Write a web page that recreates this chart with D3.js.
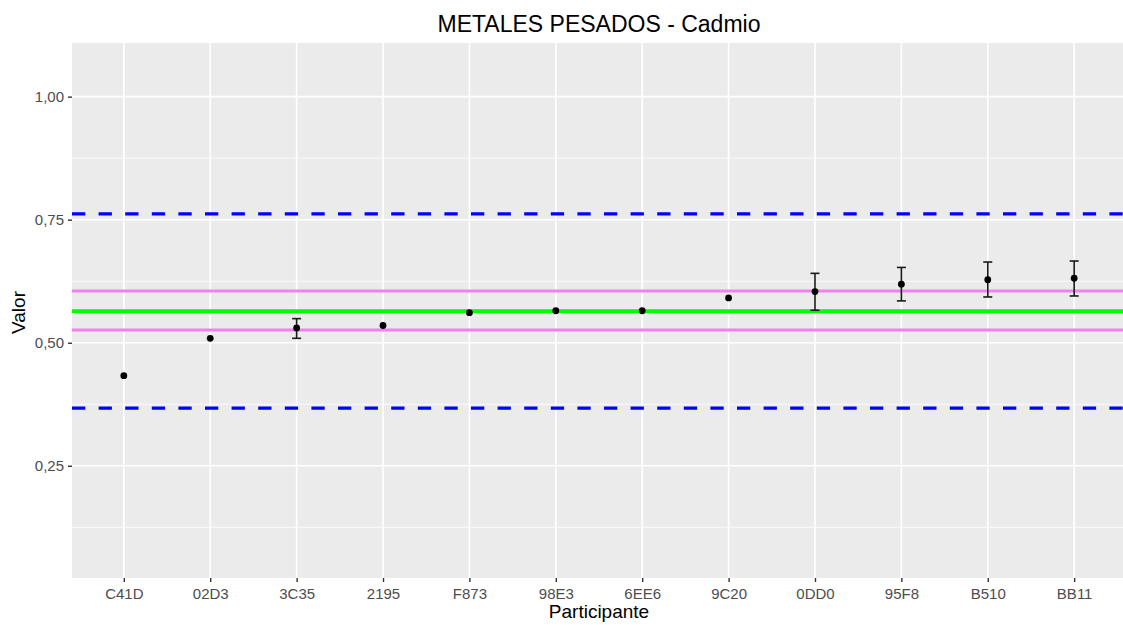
<!DOCTYPE html>
<html>
<head>
<meta charset="utf-8">
<script src="https://cdn.jsdelivr.net/npm/d3@7"></script>
<style>
  body { margin: 0; background: #fff; }
  text { font-family: "Liberation Sans", Arial, sans-serif; }
</style>
</head>
<body>
<div id="chart-area"></div>
<script>
// data
var participants = ['C41D','02D3','3C35','2195','F873','98E3','6EE6','9C20','0DD0','95F8','B510','BB11'];
var values   = [0.433, 0.509, 0.530, 0.535, 0.561, 0.565, 0.565, 0.591, 0.604, 0.619, 0.628, 0.631];
var errLow   = [null, null, 0.509, null, null, null, null, null, 0.566, 0.585, 0.593, 0.595];
var errHigh  = [null, null, 0.549, null, null, null, null, null, 0.641, 0.653, 0.664, 0.666];
var yTicks = [0.25, 0.50, 0.75, 1.00];
var yMinor = [0.125, 0.375, 0.625, 0.875];
var refCenter = 0.564;          // green
var refInner  = [0.526, 0.605]; // violet
var refOuter  = [0.367, 0.762]; // blue dashed

var W = 1123, H = 625;
var margin = { top: 43, right: -3, bottom: 47, left: 72 },
    width = W - margin.left - margin.right,
    height = H - margin.top - margin.bottom;

var svg = d3.select('#chart-area').append('svg')
    .attr('width', W)
    .attr('height', H);

var g = svg.append('g')
    .attr('transform', 'translate(' + margin.left + ',' + margin.top + ')');

var x = d3.scalePoint()
    .domain(participants)
    .range([0, width])
    .padding(0.6);

var y = d3.scaleLinear()
    .domain([0.022, 1.109])
    .range([height, 0]);

var fmt = function(d){ return d3.format('.2f')(d).replace('.', ','); };

// panel
g.append('rect')
    .attr('width', width)
    .attr('height', height)
    .attr('fill', '#EBEBEB');

// grid
g.selectAll('.minor').data(yMinor).enter().append('line')
    .attr('x1', 0).attr('x2', width)
    .attr('y1', function(d){ return y(d); })
    .attr('y2', function(d){ return y(d); })
    .attr('stroke', '#fff').attr('stroke-width', 0.8);

g.selectAll('.hmajor').data(yTicks).enter().append('line')
    .attr('x1', 0).attr('x2', width)
    .attr('y1', function(d){ return y(d); })
    .attr('y2', function(d){ return y(d); })
    .attr('stroke', '#fff').attr('stroke-width', 1.6);

g.selectAll('.vmajor').data(participants).enter().append('line')
    .attr('x1', function(d){ return x(d); })
    .attr('x2', function(d){ return x(d); })
    .attr('y1', 0).attr('y2', height)
    .attr('stroke', '#fff').attr('stroke-width', 1.6);

// reference lines
g.selectAll('.outer').data(refOuter).enter().append('line')
    .attr('x1', 0).attr('x2', width)
    .attr('y1', function(d){ return y(d); })
    .attr('y2', function(d){ return y(d); })
    .attr('stroke', '#0000FF').attr('stroke-width', 3.3)
    .attr('stroke-dasharray', '13.3,13.3');

g.selectAll('.inner').data(refInner).enter().append('line')
    .attr('x1', 0).attr('x2', width)
    .attr('y1', function(d){ return y(d); })
    .attr('y2', function(d){ return y(d); })
    .attr('stroke', '#EE82EE').attr('stroke-width', 3);

g.append('line')
    .attr('x1', 0).attr('x2', width)
    .attr('y1', y(refCenter)).attr('y2', y(refCenter))
    .attr('stroke', '#00FF00').attr('stroke-width', 4);

// error bars
var errData = participants.map(function(p, i){
    return { p: p, lo: errLow[i], hi: errHigh[i] };
}).filter(function(d){ return d.lo !== null; });

var eb = g.selectAll('.err').data(errData).enter().append('g')
    .attr('stroke', '#1a1a1a').attr('stroke-width', 1.6).attr('fill', 'none');
eb.append('line')
    .attr('x1', function(d){ return x(d.p); })
    .attr('x2', function(d){ return x(d.p); })
    .attr('y1', function(d){ return y(d.lo); })
    .attr('y2', function(d){ return y(d.hi); });
eb.append('line')
    .attr('x1', function(d){ return x(d.p) - 4.5; })
    .attr('x2', function(d){ return x(d.p) + 4.5; })
    .attr('y1', function(d){ return y(d.lo); })
    .attr('y2', function(d){ return y(d.lo); });
eb.append('line')
    .attr('x1', function(d){ return x(d.p) - 4.5; })
    .attr('x2', function(d){ return x(d.p) + 4.5; })
    .attr('y1', function(d){ return y(d.hi); })
    .attr('y2', function(d){ return y(d.hi); });

// points
g.selectAll('.pt').data(values).enter().append('circle')
    .attr('cx', function(d, i){ return x(participants[i]); })
    .attr('cy', function(d){ return y(d); })
    .attr('r', 3.4)
    .attr('fill', '#000');

// axes
var xAxis = g.append('g')
    .attr('transform', 'translate(0,' + height + ')')
    .call(d3.axisBottom(x).tickSize(4).tickPadding(4));
var yAxis = g.append('g')
    .call(d3.axisLeft(y).tickValues(yTicks).tickFormat(fmt).tickSize(4).tickPadding(4));

[xAxis, yAxis].forEach(function(a){
    a.select('.domain').remove();
    a.selectAll('.tick line').attr('stroke', '#333').attr('stroke-width', 1.4);
    a.selectAll('.tick text')
        .attr('fill', '#4D4D4D')
        .attr('font-size', '15px')
        .attr('font-family', '"Liberation Sans", Arial, sans-serif');
});
xAxis.selectAll('.tick text').attr('dy', '0.85em');

// labels
svg.append('text')
    .attr('x', margin.left + width / 2)
    .attr('y', 31.5)
    .attr('text-anchor', 'middle')
    .attr('font-size', '23px')
    .attr('fill', '#000')
    .text('METALES PESADOS - Cadmio');

svg.append('text')
    .attr('x', margin.left + width / 2)
    .attr('y', 618)
    .attr('text-anchor', 'middle')
    .attr('font-size', '19px')
    .attr('fill', '#000')
    .text('Participante');

svg.append('text')
    .attr('transform', 'translate(25,' + (margin.top + height / 2 + 2) + ') rotate(-90)')
    .attr('text-anchor', 'middle')
    .attr('font-size', '19px')
    .attr('fill', '#000')
    .text('Valor');
</script>
</body>
</html>
